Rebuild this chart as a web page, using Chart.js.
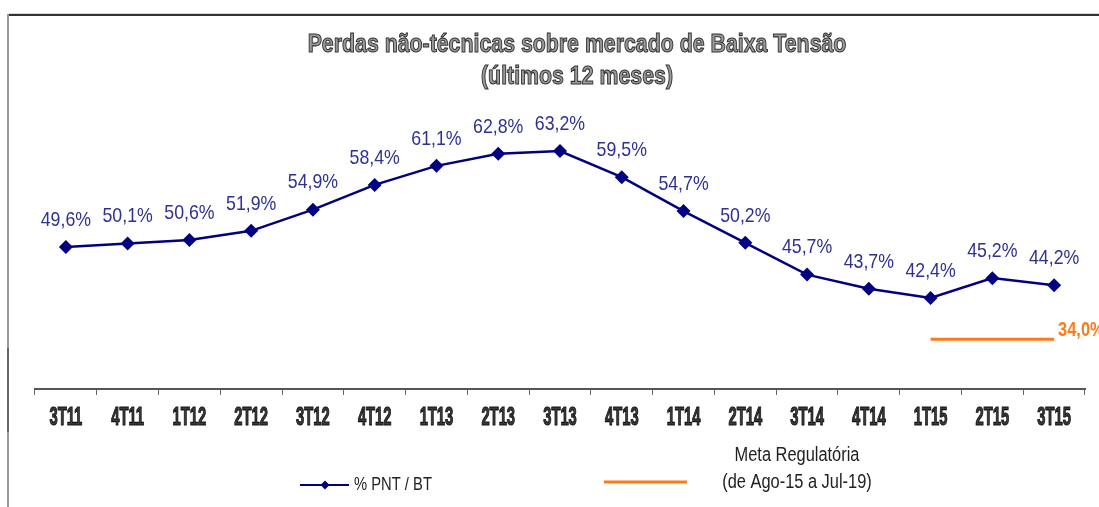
<!DOCTYPE html>
<html>
<head>
<meta charset="utf-8">
<script src="https://cdn.jsdelivr.net/npm/chart.js@4.4.1/dist/chart.umd.min.js"></script>
<style>
  html, body { margin: 0; padding: 0; background: #ffffff; }
  #wrap { width: 1099px; height: 507px; position: relative; }
  canvas { display: block; }
</style>
</head>
<body>
<div id="wrap"><canvas id="c" width="1099" height="507"></canvas></div>
<script>
// ---- data ----
const categories = ['3T11','4T11','1T12','2T12','3T12','4T12','1T13','2T13','3T13','4T13','1T14','2T14','3T14','4T14','1T15','2T15','3T15'];
const pntValues  = [49.6, 50.1, 50.6, 51.9, 54.9, 58.4, 61.1, 62.8, 63.2, 59.5, 54.7, 50.2, 45.7, 43.7, 42.4, 45.2, 44.2];
const metaValues = [null, null, null, null, null, null, null, null, null, null, null, null, null, null, 34.0, 34.0, 34.0];
const titleLines = ['Perdas não-técnicas sobre mercado de Baixa Tensão', '(últimos 12 meses)'];
const pntLegend  = '% PNT / BT';
const metaLegend = ['Meta Regulatória', '(de Ago-15 a Jul-19)'];

const NAVY = '#000080';
const LABEL_BLUE = '#2E3192';
const ORANGE = '#FF7A1A';

const fmt = v => v.toFixed(1).replace('.', ',') + '%';

// detect narrow font availability (fallback to Liberation Sans, condensed by scaling)
const probe = document.createElement('canvas').getContext('2d');
probe.font = '20px "Liberation Sans Narrow", "Liberation Sans", sans-serif';
const wN = probe.measureText('abcdefghijklmnop').width;
probe.font = '20px "Liberation Sans", sans-serif';
const wS = probe.measureText('abcdefghijklmnop').width;
const haveNarrow = wN / wS < 0.95;
const NARROW = haveNarrow ? '"Liberation Sans Narrow", "Liberation Sans", sans-serif' : '"Liberation Sans", Arial, sans-serif';
const NF = haveNarrow ? 1 : 0.82;

function txt(ctx, s, x, y, font, color, sx, align, stroke, strokeW) {
  ctx.save();
  ctx.translate(x, y);
  ctx.scale(sx * NF, 1);
  ctx.font = font;
  ctx.textAlign = align || 'center';
  ctx.textBaseline = 'middle';
  ctx.fillStyle = color;
  ctx.fillText(s, 0, 0);
  if (stroke) {
    ctx.lineWidth = strokeW || 1;
    ctx.strokeStyle = stroke;
    ctx.strokeText(s, 0, 0);
  }
  ctx.restore();
}

const decor = {
  id: 'decor',
  beforeDraw(chart) {
    const ctx = chart.ctx;
    ctx.save();
    ctx.fillStyle = '#ffffff';
    ctx.fillRect(0, 0, chart.width, chart.height);
    // frame
    ctx.fillStyle = '#d8d8d8';
    ctx.fillRect(8, 13, 1091, 1);
    ctx.fillStyle = '#333333';
    ctx.fillRect(8, 14, 1091, 2);
    ctx.fillStyle = '#9a9a9a';
    ctx.fillRect(7, 14, 2, 493);
    ctx.fillStyle = '#666666';
    ctx.fillRect(7, 348, 2, 84);
    ctx.restore();
  },
  afterDraw(chart) {
    const ctx = chart.ctx;
    const xs = chart.scales.x;
    // title
    txt(ctx, titleLines[0], 577, 45, 'bold 26px ' + NARROW, '#9a9a9a', 1, 'center', '#333333', 1.1);
    txt(ctx, titleLines[1], 577, 77, 'bold 26px ' + NARROW, '#9a9a9a', 1, 'center', '#333333', 1.1);
    // category labels
    categories.forEach((c, i) => {
      txt(ctx, c, xs.getPixelForValue(i), 418, 'bold 25px ' + NARROW, '#3a3a3a', 0.72, 'center', '#111111', 1.1);
    });
    // data labels
    const m0 = chart.getDatasetMeta(0);
    m0.data.forEach((p, i) => {
      txt(ctx, fmt(pntValues[i]), p.x, p.y - 27, '21px ' + NARROW, LABEL_BLUE, 1.03, 'center');
    });
    // meta label at its last point
    const m1 = chart.getDatasetMeta(1);
    let last = -1;
    metaValues.forEach((v, i) => { if (v !== null) last = i; });
    if (last >= 0) {
      const p = m1.data[last];
      txt(ctx, fmt(metaValues[last]), p.x + 4, p.y - 9, 'bold 20px ' + NARROW, ORANGE, 1, 'left');
    }
    // legend
    ctx.save();
    ctx.strokeStyle = NAVY; ctx.lineWidth = 2;
    ctx.beginPath(); ctx.moveTo(300, 485); ctx.lineTo(349, 485); ctx.stroke();
    ctx.fillStyle = NAVY;
    ctx.beginPath(); ctx.moveTo(325, 480.5); ctx.lineTo(329.5, 485); ctx.lineTo(325, 489.5); ctx.lineTo(320.5, 485); ctx.closePath(); ctx.fill();
    ctx.strokeStyle = ORANGE; ctx.lineWidth = 3;
    ctx.beginPath(); ctx.moveTo(604, 482); ctx.lineTo(687, 482); ctx.stroke();
    ctx.restore();
    txt(ctx, pntLegend, 354, 485, '18px ' + NARROW, '#222222', 1, 'left');
    txt(ctx, metaLegend[0], 797, 455, '20px ' + NARROW, '#222222', 1, 'center');
    txt(ctx, metaLegend[1], 797, 482, '20px ' + NARROW, '#222222', 1, 'center');
  }
};

new Chart(document.getElementById('c'), {
  type: 'line',
  data: {
    labels: categories,
    datasets: [
      {
        label: pntLegend,
        data: pntValues,
        borderColor: NAVY,
        backgroundColor: NAVY,
        borderWidth: 2.5,
        pointStyle: 'rectRot',
        pointRadius: 7,
        pointBackgroundColor: NAVY,
        pointBorderColor: NAVY,
        pointBorderWidth: 0,
        tension: 0,
        yAxisID: 'y'
      },
      {
        label: metaLegend.join(' '),
        data: metaValues,
        borderColor: ORANGE,
        backgroundColor: ORANGE,
        borderWidth: 3,
        pointRadius: 0,
        tension: 0,
        spanGaps: false,
        yAxisID: 'y2'
      }
    ]
  },
  options: {
    responsive: false,
    animation: false,
    devicePixelRatio: 1,
    layout: { padding: { left: 35, right: 14, top: 103, bottom: 0 } },
    plugins: { legend: { display: false }, title: { display: false }, tooltip: { enabled: false } },
    scales: {
      x: {
        offset: true,
        grid: { display: true, drawOnChartArea: false, drawTicks: true, tickLength: 6, offset: true, color: '#666666', lineWidth: 1 },
        border: { display: true, color: '#555555', width: 2 },
        ticks: { color: 'rgba(0,0,0,0)', font: { size: 12 }, autoSkip: false, maxRotation: 0 },
        afterFit: s => { s.height = 118; }
      },
      y: { display: false, min: 29.5, max: 70 },
      y2: { display: false, min: 30, max: 53 }
    }
  },
  plugins: [decor]
});
</script>
</body>
</html>
